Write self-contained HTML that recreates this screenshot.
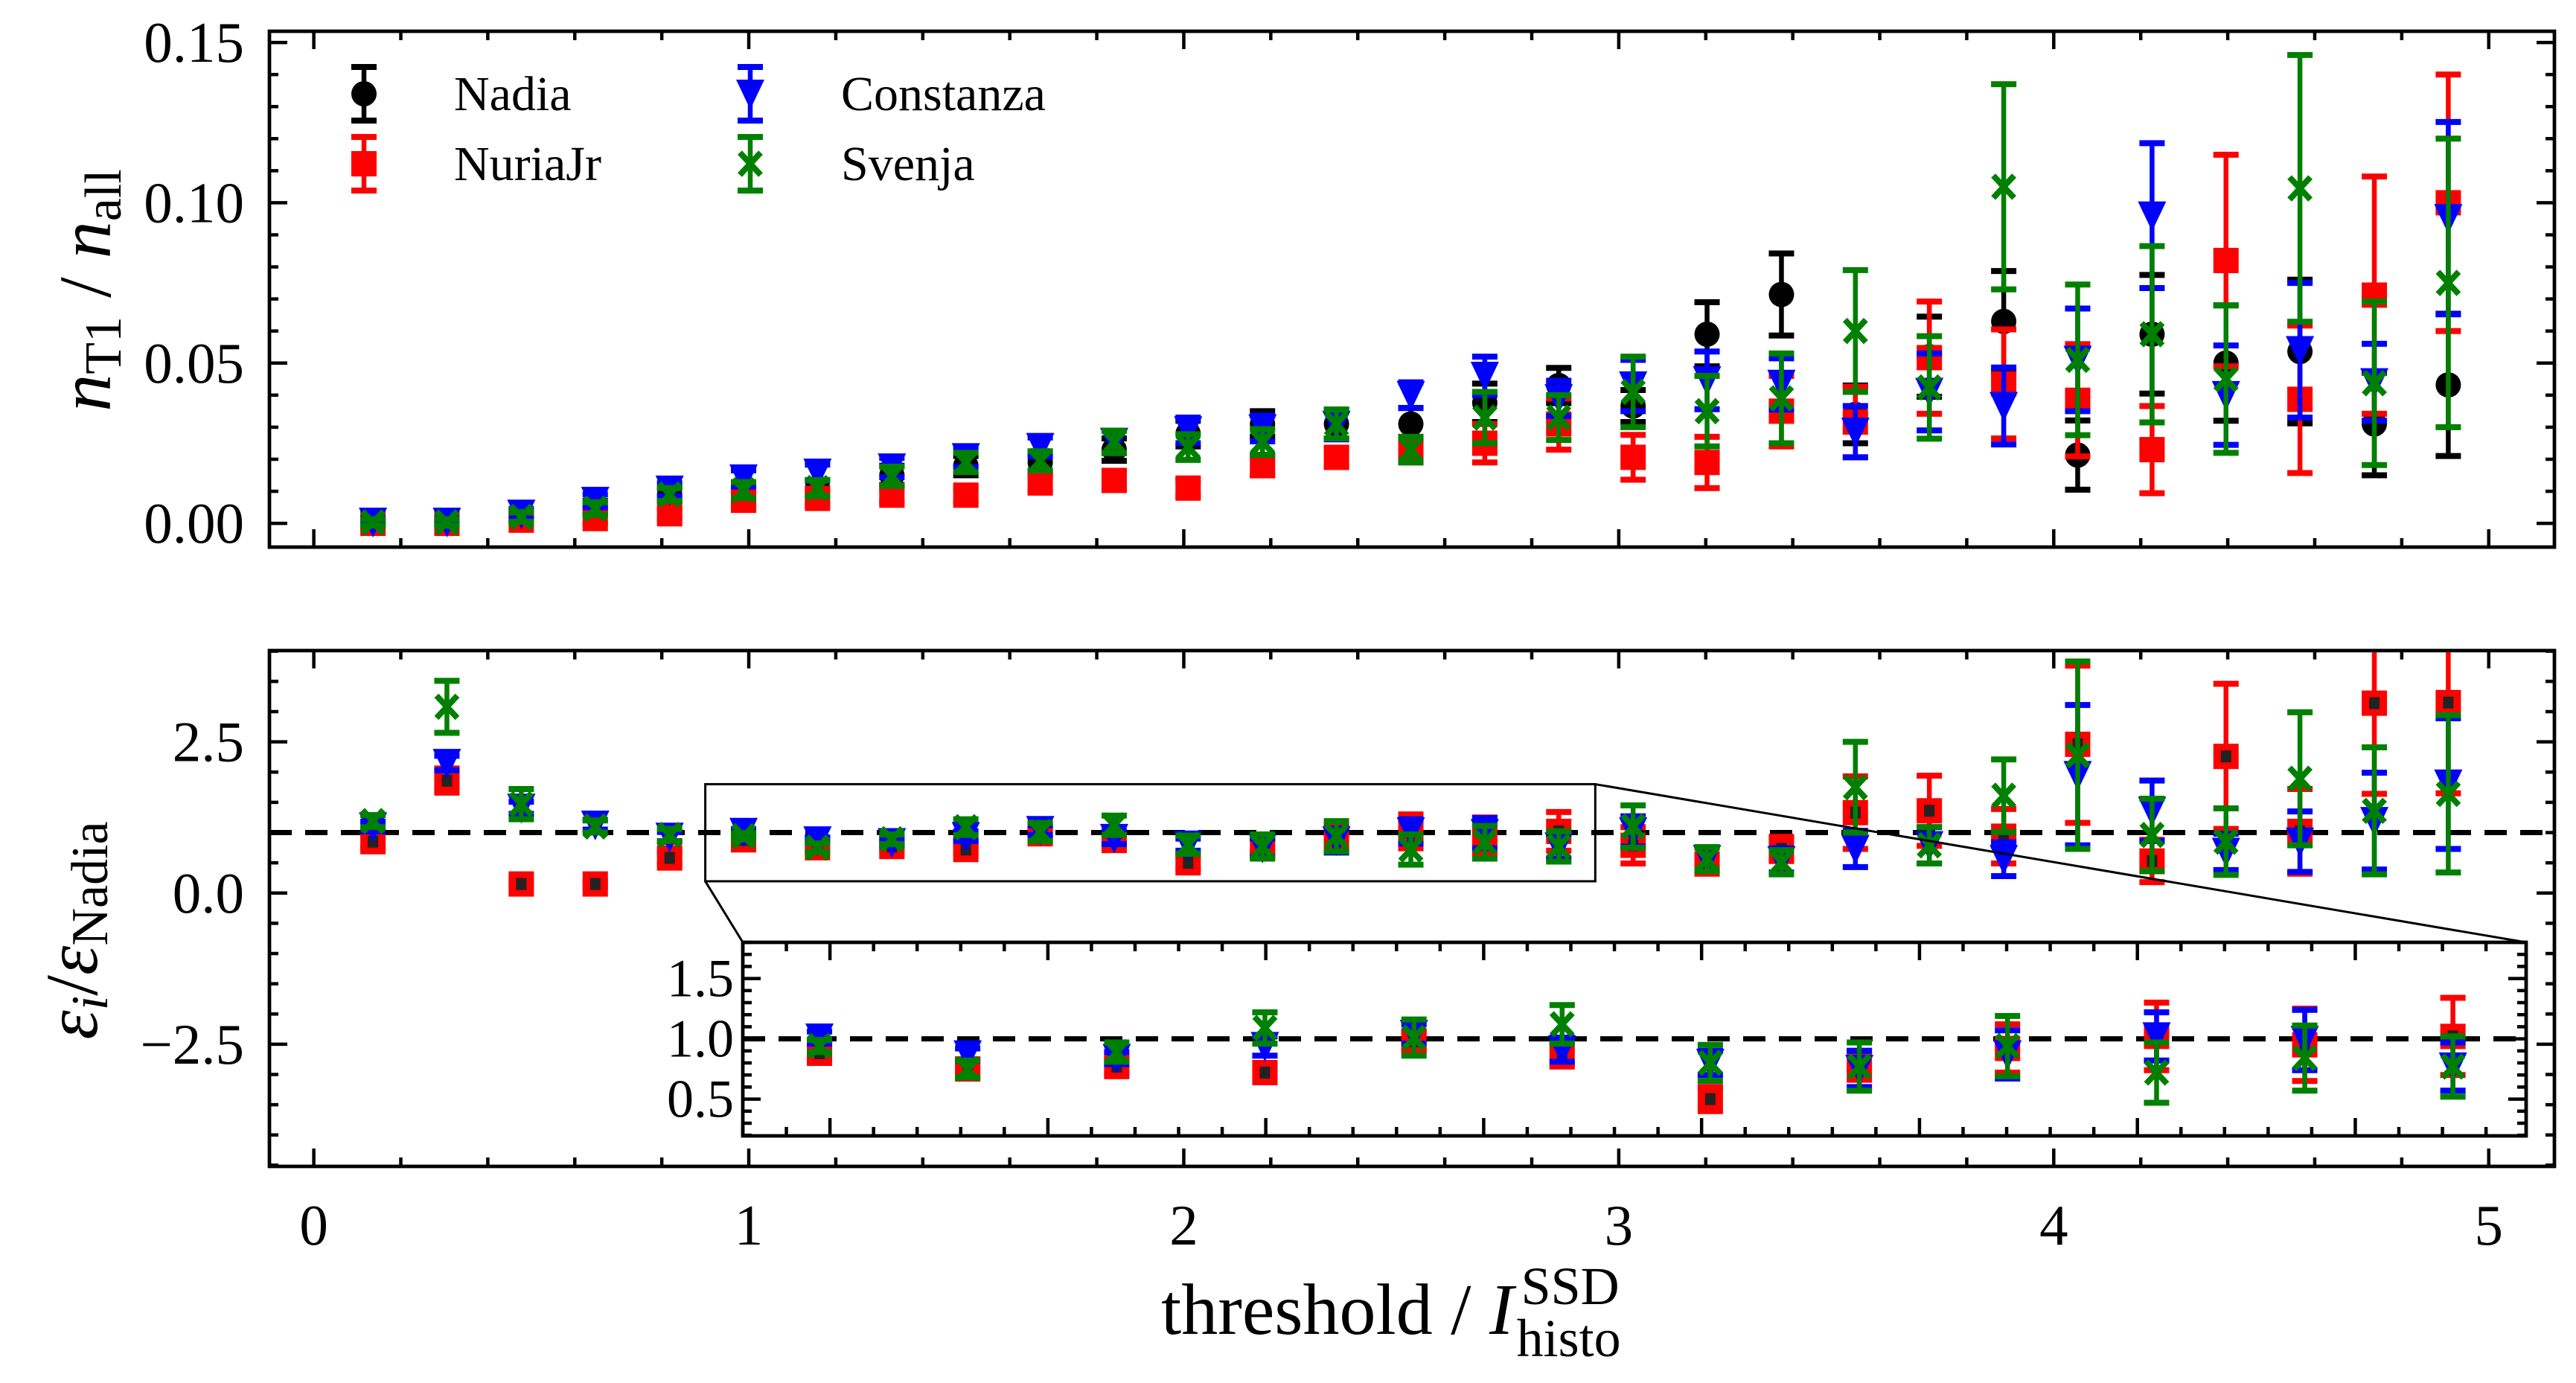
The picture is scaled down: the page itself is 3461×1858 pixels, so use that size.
<!DOCTYPE html>
<html><head><meta charset="utf-8"><style>
html,body{margin:0;padding:0;background:#fff;}
svg{display:block;font-family:"Liberation Serif","DejaVu Serif",serif;}
</style></head><body>
<svg id="fig" xmlns="http://www.w3.org/2000/svg" width="3461" height="1858" viewBox="0 0 3461 1858">
<rect width="3461" height="1858" fill="#fff"/>
<g id="top"></g>
<g id="bot"></g>
<g id="ins"></g>
<text transform="translate(148,390) rotate(-90)" text-anchor="middle" font-size="100"><tspan font-style="italic">n</tspan><tspan font-size="70" dy="14">T1</tspan><tspan dy="-14"> / </tspan><tspan font-style="italic">n</tspan><tspan font-size="70" dy="14">all</tspan></text>
<text transform="translate(130,1250) rotate(-90)" text-anchor="middle" font-size="100"><tspan font-style="italic">ε</tspan><tspan font-style="italic" font-size="70" dy="14">i</tspan><tspan dy="-14">/</tspan><tspan font-style="italic">ε</tspan><tspan font-size="70" dy="14">Nadia</tspan></text>
<g>
<text id="xt" x="1560" y="1792" font-size="98">threshold / <tspan font-style="italic">I</tspan></text>
<text id="xsub" x="2030" y="1822" font-size="72">histo</text>
<text id="xsup" x="2036" y="1752" font-size="72">SSD</text>
</g>
</svg>
<script>
const thresholds = [0.136,0.306,0.477,0.647,0.818,0.988,1.158,1.329,1.499,1.670,1.840,2.010,2.181,2.351,2.522,2.692,2.862,3.033,3.203,3.374,3.544,3.714,3.885,4.055,4.226,4.396,4.566,4.737,4.907];
const nadiaFrac = [0,0,0.002,0.005,0.009,0.010,0.011,0.015,0.018,0.019,0.023,0.028,0.031,0.031,0.031,0.0376,0.043,0.0366,0.059,0.0714,0.034,0.052,0.063,0.0213,0.059,0.050,0.0536,0.031,0.0432];
const nadiaFracErr = [0.001,0.001,0.0015,0.002,0.002,0.0025,0.0025,0.003,0.003,0.003,0.0035,0.004,0.004,0.0045,0.005,0.006,0.0055,0.005,0.010,0.0128,0.009,0.0125,0.0157,0.0108,0.0185,0.018,0.0224,0.016,0.0222];
const nuriaFrac = [0,0,0.001,0.0015,0.003,0.0072,0.0078,0.0088,0.0088,0.0126,0.0134,0.011,0.018,0.0206,0.023,0.025,0.031,0.0206,0.019,0.035,0.0316,0.0517,0.0435,0.0384,0.023,0.082,0.0387,0.0712,0.100];
const nuriaFracErr = [0.001,0.001,0.001,0.0015,0.0015,0.002,0.002,0.002,0.002,0.0025,0.0025,0.0025,0.003,0.003,0.004,0.006,0.008,0.007,0.008,0.011,0.011,0.0175,0.017,0.0175,0.0136,0.033,0.023,0.037,0.040];
const constFrac = [0.0005,0.0005,0.003,0.007,0.0105,0.014,0.0158,0.0174,0.0206,0.0238,0.0254,0.029,0.0296,0.0307,0.040,0.046,0.039,0.043,0.0446,0.0435,0.0286,0.041,0.0366,0.051,0.096,0.040,0.054,0.044,0.0952];
const constFracErr = [0.001,0.001,0.0015,0.002,0.002,0.0025,0.0025,0.003,0.003,0.003,0.0035,0.004,0.004,0.0045,0.004,0.006,0.0055,0.008,0.009,0.008,0.008,0.012,0.012,0.016,0.0226,0.0155,0.021,0.012,0.030];
const svenFrac = [0.0003,0.0003,0.002,0.0046,0.009,0.0104,0.011,0.0147,0.019,0.0195,0.0254,0.0238,0.0254,0.031,0.023,0.033,0.033,0.041,0.035,0.039,0.060,0.0424,0.105,0.051,0.059,0.045,0.1045,0.0437,0.075];
const svenFracErr = [0.001,0.001,0.0015,0.002,0.002,0.0025,0.0025,0.003,0.003,0.003,0.0035,0.004,0.004,0.0045,0.004,0.008,0.007,0.011,0.011,0.014,0.019,0.016,0.032,0.0235,0.0275,0.023,0.0416,0.0255,0.045];
const nuriaRatio = [0.85,1.86,0.15,0.15,0.58,0.88,0.75,0.77,0.72,0.98,0.87,0.50,0.78,0.92,1.02,0.95,1.02,0.79,0.48,0.73,1.33,1.36,0.94,2.46,0.53,2.26,1.02,3.14,3.15];
const nuriaRatioErr = [0.1,0.2,0.05,0.05,0.1,0.05,0.06,0.06,0.06,0.08,0.1,0.1,0.12,0.2,0.28,0.3,0.32,0.3,0.15,0.2,0.6,0.58,0.45,1.3,0.35,1.2,0.7,1.5,1.5];
const constRatio = [1.1,2.15,1.41,1.13,0.93,1.01,0.87,0.84,0.94,1.04,0.91,0.80,0.75,0.87,1.02,0.99,0.77,1.02,0.56,0.54,0.73,0.79,0.56,1.95,1.36,0.68,0.85,1.19,1.81];
const constRatioErr = [0.08,0.12,0.1,0.08,0.08,0.05,0.05,0.05,0.08,0.08,0.1,0.1,0.15,0.2,0.2,0.25,0.2,0.25,0.2,0.2,0.3,0.3,0.28,1.16,0.5,0.3,0.5,0.8,1.08];
const svenRatio = [1.19,3.08,1.47,1.1,0.96,0.94,0.75,0.89,1.09,1.01,1.12,0.80,0.77,0.94,0.72,0.84,0.77,1.1,0.56,0.51,1.75,0.79,1.61,2.28,0.96,0.85,1.89,1.36,1.64];
const svenRatioErr = [0.1,0.43,0.25,0.1,0.1,0.05,0.07,0.08,0.13,0.15,0.16,0.15,0.2,0.25,0.25,0.27,0.25,0.35,0.2,0.2,0.75,0.3,0.6,1.55,0.6,0.55,1.1,1.05,1.3];
const topYTicks = ["0.00","0.05","0.10","0.15"];
const botYTicks = ["−2.5","0.0","2.5"];
const insetYTicks = ["0.5","1.0","1.5"];
const xTickLabels = ["0","1","2","3","4","5"];

const NS = "http://www.w3.org/2000/svg";
function mk(parent, tag, attrs){const e=document.createElementNS(NS,tag);for(const k in attrs)e.setAttribute(k,attrs[k]);parent.appendChild(e);return e;}
function axis(x0,x1,px0,px1){return v=>px0+(v-x0)/(x1-x0)*(px1-px0);}

const TOP={L:362,R:3432,T:42,B:735,xmin:-0.102,xmax:5.151,ymin:-0.0074,ymax:0.1535};
const BOT={L:362,R:3432,T:874,B:1567,xmin:-0.102,xmax:5.151,ymin:-4.52,ymax:4.01};
const INS={L:998,R:3394,T:1266,B:1526,xmin:0.900,xmax:2.946,ymin:0.195,ymax:1.80};
[TOP,BOT,INS].forEach(a=>{a.sx=axis(a.xmin,a.xmax,a.L,a.R);a.sy=axis(a.ymin,a.ymax,a.B,a.T);});

function ticks(g,a,xmaj,xmin,ymaj,ymin,majLen,minLen){
  const tg=mk(g,'g',{stroke:'#000','stroke-width':4.5});
  const eps=1e-9;
  function each(step,lo,hi,fn){for(let v=Math.ceil((lo-eps)/step)*step;v<=hi+eps;v+=step)fn(v);}
  each(xmin,a.xmin,a.xmax,v=>{const p=a.sx(v);const isMaj=Math.abs(v/xmaj-Math.round(v/xmaj))<1e-6;const l=isMaj?majLen:minLen;
    mk(tg,'line',{x1:p,x2:p,y1:a.B,y2:a.B-l});mk(tg,'line',{x1:p,x2:p,y1:a.T,y2:a.T+l});});
  each(ymin,a.ymin,a.ymax,v=>{const p=a.sy(v);const isMaj=Math.abs(v/ymaj-Math.round(v/ymaj))<1e-6;const l=isMaj?majLen:minLen;
    mk(tg,'line',{x1:a.L,x2:a.L+l,y1:p,y2:p});mk(tg,'line',{x1:a.R,x2:a.R-l,y1:p,y2:p});});
}
function frame(g,a,name){
  const r=mk(g,'rect',{x:a.L,y:a.T,width:a.R-a.L,height:a.B-a.T,fill:'#fff',stroke:'#000','stroke-width':4.5});
  
  
}
function marker(g,kind,x,y,color){
  if(kind==='o'){mk(g,'circle',{cx:x,cy:y,r:17,fill:color});}
  else if(kind==='s'){mk(g,'rect',{x:x-17,y:y-17,width:34,height:34,fill:color});}
  else if(kind==='sb'){mk(g,'rect',{x:x-17,y:y-17,width:34,height:34,fill:color});mk(g,'rect',{x:x-7,y:y-8,width:14,height:16,fill:'#222'});}
  else if(kind==='v'){mk(g,'polygon',{points:`${x-19},${y-19} ${x+19},${y-19} ${x},${y+21}`,fill:color});}
  else if(kind==='x'){mk(g,'path',{d:`M${x-14},${y-15}L${x+14},${y+15}M${x+14},${y-15}L${x-14},${y+15}`,stroke:color,'stroke-width':8,fill:'none'});}
}
function errbar(g,x,y1,y2,color){
  mk(g,'line',{x1:x,x2:x,y1:y1,y2:y2,stroke:color,'stroke-width':6.5});
  mk(g,'line',{x1:x-17,x2:x+17,y1:y1,y2:y1,stroke:color,'stroke-width':8});
  mk(g,'line',{x1:x-17,x2:x+17,y1:y2,y2:y2,stroke:color,'stroke-width':8});
}
function series(g,a,vals,errs,kind,color,name,clip){
  const sg=mk(g,'g',{});
  
  
  if(clip) sg.setAttribute('clip-path',clip);
  for(let i=0;i<thresholds.length;i++){
    const t=thresholds[i]; if(t<a.xmin||t>a.xmax) continue;
    const x=a.sx(t);
    const pg=mk(sg,'g',{});
    
    
    errbar(pg,x,a.sy(vals[i]+errs[i]),a.sy(vals[i]-errs[i]),color);
    marker(pg,kind,x,a.sy(vals[i]),color);
  }
}
function clipFor(a,id){const svg=document.getElementById('fig');const d=mk(svg,'defs',{});const c=mk(d,'clipPath',{id:id});mk(c,'rect',{x:a.L,y:a.T,width:a.R-a.L,height:a.B-a.T});return `url(#${id})`;}

// ---- top panel
const gt=document.getElementById('top');
frame(gt,TOP,'top-plot-area');
const ct=clipFor(TOP,'ctop');
series(gt,TOP,nadiaFrac,nadiaFracErr,'o','#000','series-nadia',ct);
series(gt,TOP,nuriaFrac,nuriaFracErr,'s','#ff0000','series-nuriajr',ct);
series(gt,TOP,constFrac,constFracErr,'v','#0000ff','series-constanza',ct);
series(gt,TOP,svenFrac,svenFracErr,'x','#008000','series-svenja',ct);
ticks(gt,TOP,1,0.2,0.05,0.01,24,12);
mk(gt,'rect',{x:TOP.L,y:TOP.T,width:TOP.R-TOP.L,height:TOP.B-TOP.T,fill:'none',stroke:'#000','stroke-width':4.5});
topYTicks.forEach(s=>{const t=mk(gt,'text',{x:328,y:TOP.sy(parseFloat(s))+26,'text-anchor':'end','font-size':77});t.textContent=s;
  });

// legend
const lg=mk(gt,'g',{});


const legItems=[["Nadia",'o','#000',489,126,610],["NuriaJr",'s','#ff0000',489,220,610],["Constanza",'v','#0000ff',1008,126,1130],["Svenja",'x','#008000',1008,220,1130]];
legItems.forEach(it=>{const e=mk(lg,'g',{});
  
  
  errbar(e,it[3],it[4]-36,it[4]+36,it[2]);marker(e,it[1],it[3],it[4],it[2]);
  const t=mk(e,'text',{x:it[5],y:it[4]+22,'font-size':66});t.textContent=it[0];});

// ---- bottom panel
const gb=document.getElementById('bot');
frame(gb,BOT,'bottom-plot-area');
const cb=clipFor(BOT,'cbot');
const dl=mk(gb,'line',{x1:BOT.L,x2:BOT.R,y1:BOT.sy(1),y2:BOT.sy(1),stroke:'#000','stroke-width':7,'stroke-dasharray':'30 18'});

series(gb,BOT,nuriaRatio,nuriaRatioErr,'sb','#ff0000','ratio-nuriajr',cb);
series(gb,BOT,constRatio,constRatioErr,'v','#0000ff','ratio-constanza',cb);
series(gb,BOT,svenRatio,svenRatioErr,'x','#008000','ratio-svenja',cb);
ticks(gb,BOT,1,0.2,2.5,0.5,24,12);
mk(gb,'rect',{x:BOT.L,y:BOT.T,width:BOT.R-BOT.L,height:BOT.B-BOT.T,fill:'none',stroke:'#000','stroke-width':4.5});
botYTicks.forEach(s=>{const v=parseFloat(s.replace('−','-'));const t=mk(gb,'text',{x:328,y:BOT.sy(v)+26,'text-anchor':'end','font-size':77});t.textContent=s;
  });
xTickLabels.forEach(s=>{const t=mk(gb,'text',{x:BOT.sx(parseFloat(s)),y:1672,'text-anchor':'middle','font-size':77});t.textContent=s;
  });
// zoom indicator
const zx1=BOT.sx(INS.xmin),zx2=BOT.sx(INS.xmax),zy1=BOT.sy(INS.ymax),zy2=BOT.sy(INS.ymin);
const zr=mk(gb,'rect',{x:zx1,y:zy1,width:zx2-zx1,height:zy2-zy1,fill:'none',stroke:'#000','stroke-width':3});

mk(gb,'line',{x1:zx1,y1:zy2,x2:INS.L,y2:INS.T,stroke:'#000','stroke-width':3});
mk(gb,'line',{x1:zx2,y1:zy1,x2:INS.R,y2:INS.T,stroke:'#000','stroke-width':3});

// ---- inset
const gi=document.getElementById('ins');
frame(gi,INS,'inset-plot-area');
const ci=clipFor(INS,'cins');
mk(gi,'line',{x1:INS.L,x2:INS.R,y1:INS.sy(1),y2:INS.sy(1),stroke:'#000','stroke-width':7,'stroke-dasharray':'30 18'});
series(gi,INS,nuriaRatio,nuriaRatioErr,'sb','#ff0000','inset-nuriajr',ci);
series(gi,INS,constRatio,constRatioErr,'v','#0000ff','inset-constanza',ci);
series(gi,INS,svenRatio,svenRatioErr,'x','#008000','inset-svenja',ci);
ticks(gi,INS,0.25,0.05,0.5,0.1,24,12);
mk(gi,'rect',{x:INS.L,y:INS.T,width:INS.R-INS.L,height:INS.B-INS.T,fill:'none',stroke:'#000','stroke-width':4.5});
insetYTicks.forEach(s=>{const t=mk(gi,'text',{x:INS.L-12,y:INS.sy(parseFloat(s))+24,'text-anchor':'end','font-size':72});t.textContent=s;
  });

// x title sub/superscript placement
try{
  const xt=document.getElementById('xt');
  const w=xt.getComputedTextLength();
  const ex=1560+w;
  document.getElementById('xsub').setAttribute('x',ex+4);
  document.getElementById('xsup').setAttribute('x',ex+10);
}catch(e){}
</script>
</body></html>
